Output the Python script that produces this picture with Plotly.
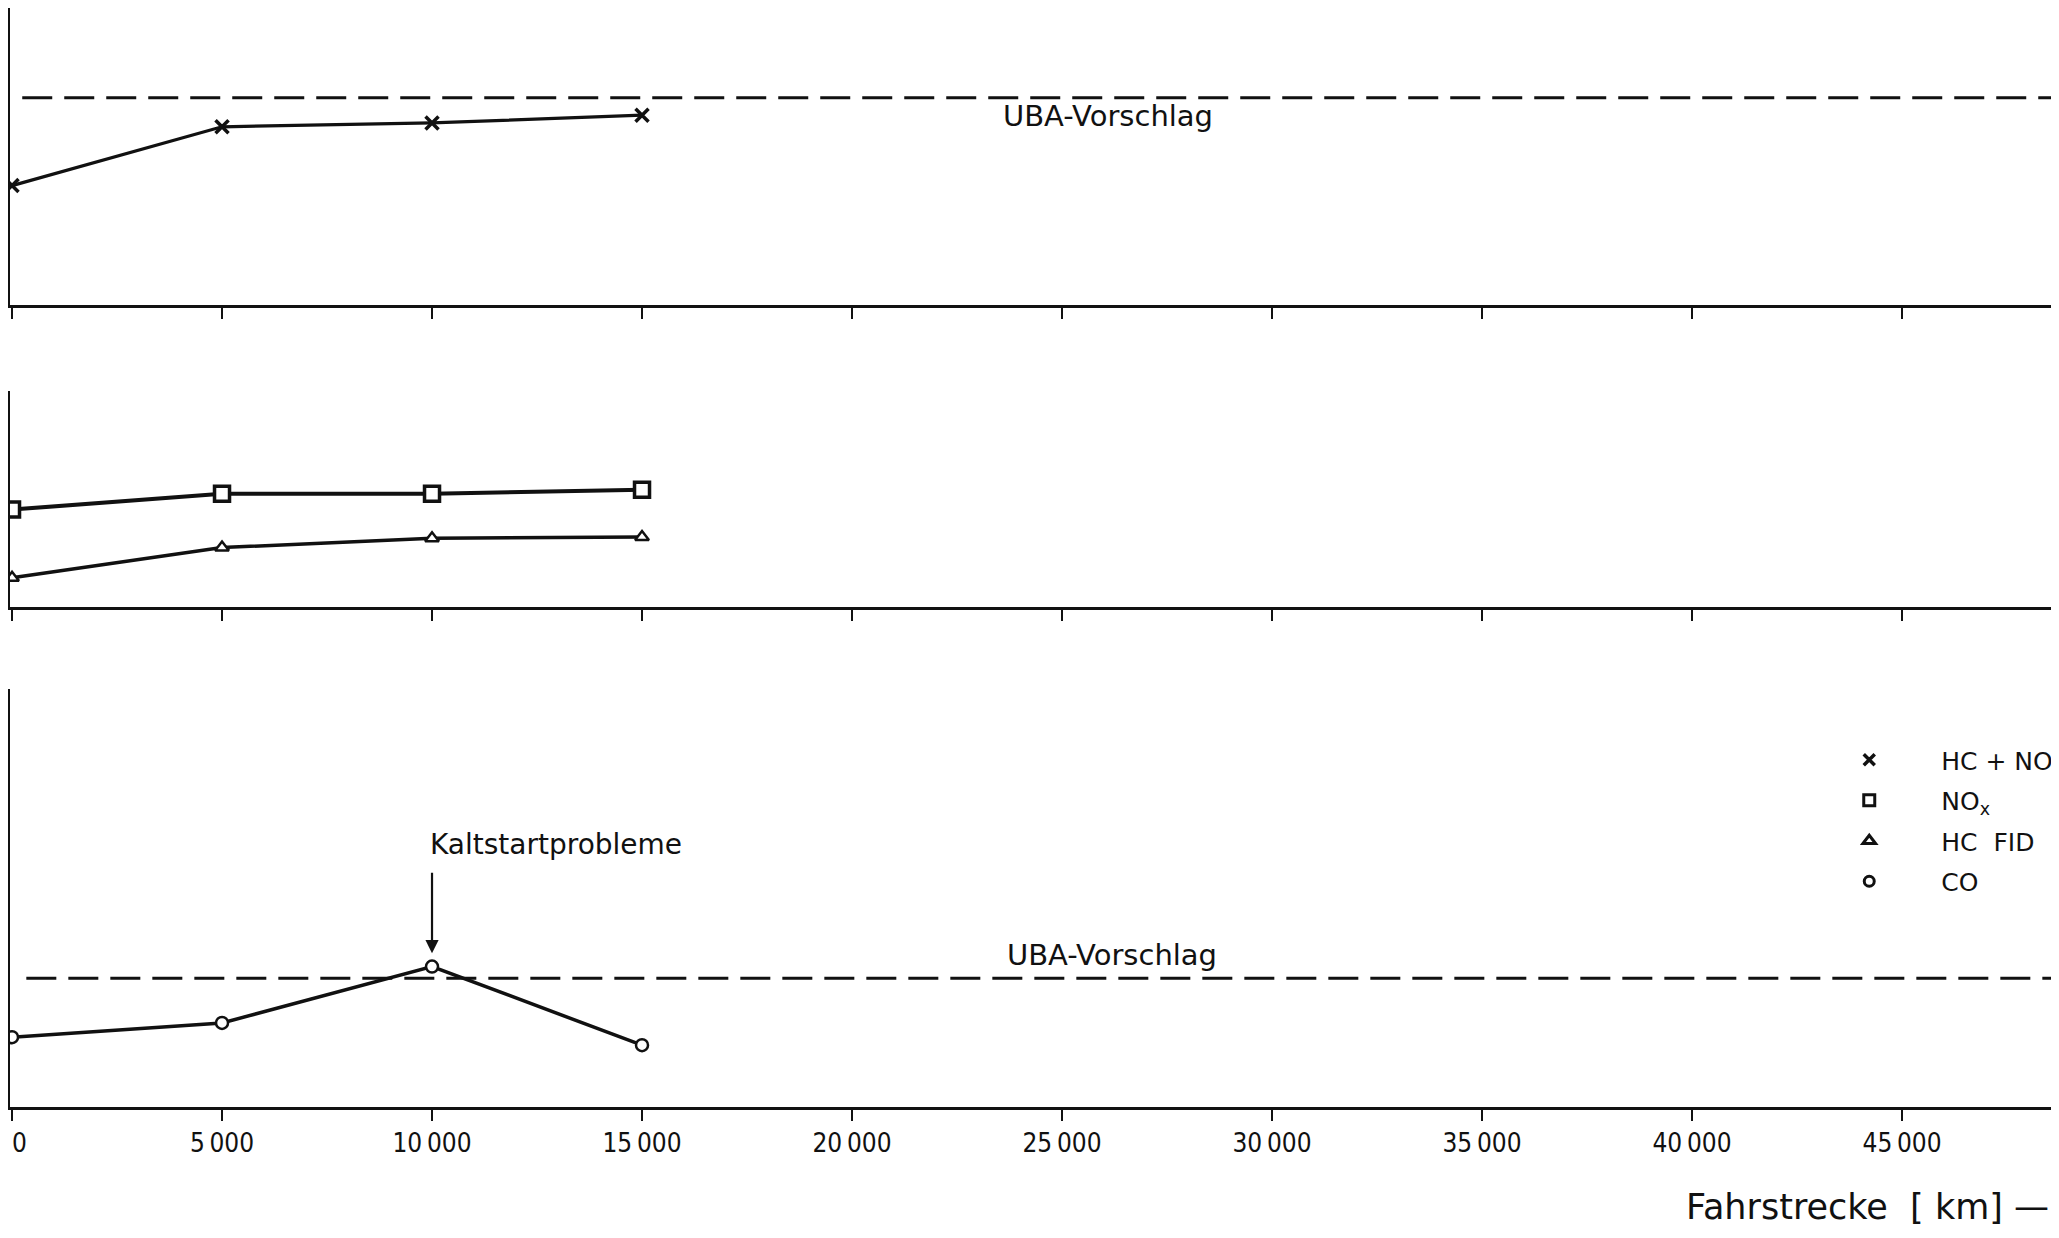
import plotly.graph_objects as go

# ---------------- data (y in relative units per panel) ----------------
km = [0, 5000, 10000, 15000]
hc_nox = [40.2, 60.0, 61.3, 63.9]      # panel 1 (x markers)
nox = [45.1, 52.4, 52.4, 54.3]         # panel 2 (squares)
hc_fid = [13.5, 27.5, 31.8, 32.4]      # panel 2 (triangles)
co = [16.7, 20.1, 33.6, 14.8]          # panel 3 (circles)
uba_hc_nox = 69.8                      # UBA proposal, panel 1
uba_co = 30.8                          # UBA proposal, panel 3
tick_km = [0, 5000, 10000, 15000, 20000, 25000, 30000, 35000, 40000, 45000]
tick_labels = ["\u20070", "5\u2009000", "10\u2009000", "15\u2009000", "20\u2009000",
               "25\u2009000", "30\u2009000", "35\u2009000", "40\u2009000", "45\u2009000"]
legend_names = ["HC + NO<sub>x</sub>", "NO<sub>x</sub>", "HC  FID", "CO"]
axis_title = "Fahrstrecke  [ km] \u2014"
uba_label = "UBA-Vorschlag"
note_label = "Kaltstartprobleme"

# ---------------- layout helpers ----------------
OFF = 8                     # page body margin
W, H = 2059 - 2 * OFF, 1238 - 2 * OFF
ML = 2
X_RANGE = [-48, 48547]
NARROW = "DejaVu Sans Condensed, Liberation Sans Narrow, sans-serif"
WIDE = "DejaVu Sans, Verdana, sans-serif"


def fy(win_px):
    """window pixel row -> figure pixel row"""
    return win_px - OFF


def ydom(top_px, bottom_px):
    top = max(fy(top_px), 0)
    return [1 - fy(bottom_px) / H, 1 - top / H]


fig = go.Figure()
black = "#111111"

# panel 1
fig.add_trace(go.Scatter(x=km, y=hc_nox, mode="lines+markers", xaxis="x", yaxis="y",
                         line=dict(color=black, width=3.2),
                         marker=dict(symbol="x-thin", size=13, line=dict(color=black, width=3.5)),
                         showlegend=False))
# panel 2
fig.add_trace(go.Scatter(x=km, y=nox, mode="lines+markers", xaxis="x2", yaxis="y2",
                         line=dict(color=black, width=4),
                         marker=dict(symbol="square", size=15, color="white",
                                     line=dict(color=black, width=3.5)),
                         showlegend=False))
fig.add_trace(go.Scatter(x=km, y=hc_fid, mode="lines+markers", xaxis="x2", yaxis="y2",
                         line=dict(color=black, width=3.5),
                         marker=dict(symbol="triangle-up", size=12, color="white",
                                     line=dict(color=black, width=2.5)),
                         showlegend=False))
# panel 3
fig.add_trace(go.Scatter(x=km, y=co, mode="lines+markers", xaxis="x3", yaxis="y3",
                         line=dict(color=black, width=3.5),
                         marker=dict(symbol="circle", size=12, color="white",
                                     line=dict(color=black, width=2.5)),
                         showlegend=False))

# legend-only entries (markers only)
leg_markers = [
    dict(symbol="x-thin", size=11, line=dict(color=black, width=3.5)),
    dict(symbol="square", size=11, color="white", line=dict(color=black, width=3)),
    dict(symbol="triangle-up", size=11, color="white", line=dict(color=black, width=3)),
    dict(symbol="circle", size=10, color="white", line=dict(color=black, width=3)),
]
for i, (name, mk) in enumerate(zip(legend_names, leg_markers)):
    fig.add_trace(go.Scatter(x=[None], y=[None], mode="markers", name=name, marker=mk,
                             xaxis="x3", yaxis="y3", legendgroup=f"g{i}", showlegend=True))

# UBA dashed lines
for yref, xref, val, x0 in [("y", "x", uba_hc_nox, 0.006), ("y3", "x3", uba_co, 0.008)]:
    fig.add_shape(type="line", xref=f"{xref} domain", yref=yref, x0=x0, x1=1, y0=val, y1=val,
                  line=dict(color=black, width=3, dash="30px,12px"))

annotations = [
    dict(x=26100, y=63.8, xref="x", yref="y", text=uba_label, showarrow=False,
         font=dict(family=WIDE, size=29, color=black)),
    dict(x=26200, y=36.4, xref="x3", yref="y3", text=uba_label, showarrow=False,
         font=dict(family=WIDE, size=29, color=black)),
    dict(x=9900, y=62.9, xref="x3", yref="y3", text=note_label, showarrow=False,
         xanchor="left", font=dict(family=WIDE, size=28, color=black)),
    dict(x=km[2], y=36.8, xref="x3", yref="y3", text="", showarrow=True, ax=0, ay=-82,
         arrowhead=2, arrowsize=1.2, arrowwidth=2.2, arrowcolor=black),
    dict(x=1, y=1 - fy(1207) / H, xref="paper", yref="paper", text=axis_title, showarrow=False,
         xanchor="right", yanchor="middle", font=dict(family=WIDE, size=35, color=black)),
]

xcommon = dict(range=X_RANGE, domain=[0, 1], showline=True, linewidth=3, linecolor=black,
               ticks="outside", ticklen=11, tickwidth=2.2, tickcolor=black,
               tickmode="array", tickvals=tick_km, ticktext=tick_labels,
               showgrid=False, zeroline=False, automargin=False,
               tickfont=dict(family=NARROW, size=26, color=black))
ycommon = dict(range=[0, 100], showline=True, linewidth=1.6, linecolor=black, ticks="",
               showticklabels=False, showgrid=False, zeroline=False, automargin=False)

fig.update_layout(
    width=W, height=H,
    template="none",
    paper_bgcolor="white", plot_bgcolor="white",
    margin=dict(l=ML, r=0, t=0, b=0, autoexpand=False),
    xaxis=dict(xcommon, anchor="y", showticklabels=False),
    xaxis2=dict(xcommon, anchor="y2", showticklabels=False),
    xaxis3=dict(xcommon, anchor="y3", showticklabels=True, ticklabelstandoff=0,
                ticklabeloverflow="allow"),
    yaxis=dict(ycommon, anchor="x", domain=ydom(0, 305)),
    yaxis2=dict(ycommon, anchor="x2", domain=ydom(391, 607)),
    yaxis3=dict(ycommon, anchor="x3", domain=ydom(689, 1107)),
    annotations=annotations,
    showlegend=True,
    legend=dict(x=(1863 - 74) / W, xanchor="left", y=1 - fy(737) / H, yanchor="top",
                bgcolor="rgba(0,0,0,0)", borderwidth=0, traceorder="grouped",
                tracegroupgap=5, itemwidth=134,
                font=dict(family=WIDE, size=25, color=black)),
)

fig.write_html("out.html")
